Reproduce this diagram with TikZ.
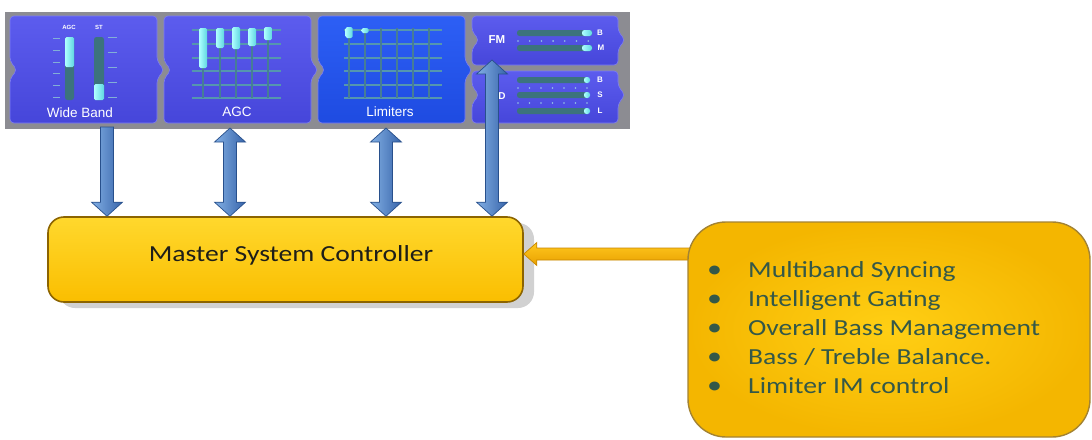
\documentclass[tikz,border=0pt]{standalone}
\usepackage{fontspec}
\setmainfont{Carlito}
\newfontfamily\calib{Carlito}[FakeStretch=1.2]
\newfontfamily\pfont{Liberation Sans}
\usetikzlibrary{calc,shadows}
\definecolor{bandgray}{RGB}{140,140,146}
\definecolor{vtop}{RGB}{92,92,238}
\definecolor{vbot}{RGB}{70,70,218}
\definecolor{ltop}{RGB}{45,95,245}
\definecolor{lbot}{RGB}{30,75,225}
\definecolor{pedge}{RGB}{125,125,245}
\definecolor{gridc}{RGB}{85,150,175}
\definecolor{vlinec}{RGB}{70,125,150}
\definecolor{barbg}{RGB}{60,115,125}
\definecolor{tickc}{RGB}{130,175,215}
\definecolor{cyanA}{RGB}{175,255,255}
\definecolor{cyanB}{RGB}{95,215,225}
\definecolor{arrL}{RGB}{130,175,228}
\definecolor{arrR}{RGB}{55,100,170}
\definecolor{arrE}{RGB}{40,80,140}
\definecolor{ylTop}{RGB}{255,216,45}
\definecolor{ylBot}{RGB}{250,190,0}
\definecolor{ylIn}{RGB}{255,207,20}
\definecolor{ylOut}{RGB}{244,182,0}
\definecolor{ylEdge}{RGB}{140,100,0}
\definecolor{orTop}{RGB}{255,200,30}
\definecolor{orBot}{RGB}{232,160,0}
\definecolor{orEdge}{RGB}{200,135,0}
\definecolor{txtMain}{RGB}{30,30,25}
\definecolor{txtBul}{RGB}{52,88,72}
\definecolor{dotc}{RGB}{150,200,230}

\newcommand\bpanel[6]{\path[#6, rounded corners=4] (#1,#2) -- (#3,#2) -- (#3,#5-9) -- (#3+7,#5) -- (#3,#5+9) -- (#3,#4) -- (#1,#4) -- (#1,#5+9) -- (#1+7,#5) -- (#1,#5-9) -- cycle;}
\newcommand\dblarrow[2]{\path[barrow] ($(#1)+(-6.5,14)$) -- ($(#1)+(-15.5,14)$) -- (#1) -- ($(#1)+(15.5,14)$) -- ($(#1)+(6.5,14)$) -- ($(#2)+(6.5,-14)$) -- ($(#2)+(15.5,-14)$) -- (#2) -- ($(#2)+(-15.5,-14)$) -- ($(#2)+(-6.5,-14)$) -- cycle;}
\newcommand\sglarrow[2]{\path[barrow] ($(#1)+(-6.5,0)$) -- ($(#1)+(6.5,0)$) -- ($(#2)+(6.5,-14)$) -- ($(#2)+(15.5,-14)$) -- (#2) -- ($(#2)+(-15.5,-14)$) -- ($(#2)+(-6.5,-14)$) -- cycle;}
\newcommand\leftarrowblk[2]{\path[oarrow] ($(#1)+(0,-6)$) -- ($(#2)+(13,-6)$) -- ($(#2)+(13,-11.5)$) -- (#2) -- ($(#2)+(13,11.5)$) -- ($(#2)+(13,6)$) -- ($(#1)+(0,6)$) -- cycle;}
\newcommand\blt{\makebox[39pt][l]{\hspace*{-2pt}\fontsize{25}{25}\selectfont\textbullet}}

\begin{document}
\begin{tikzpicture}[x=1pt,y=-1pt,
  violet/.style={top color=vtop,bottom color=vbot,draw=pedge,line width=0.6},
  limblue/.style={top color=ltop,bottom color=lbot,draw=pedge,line width=0.6},
  plabel/.style={text=white,font=\pfont\fontsize{13.5}{14}\selectfont,inner sep=0},
  slabel/.style={text=white,font=\pfont\bfseries\fontsize{6}{6}\selectfont,inner sep=0},
  mlabel/.style={text=white,font=\pfont\bfseries\fontsize{8}{8}\selectfont,inner sep=0},
  gridl/.style={draw=gridc,line width=1.4},
  vline/.style={draw=vlinec,line width=2.4},
  cyanbar/.style={left color=cyanA,right color=cyanB,rounded corners=1.5},
  barbgs/.style={fill=barbg,rounded corners=2.5},
  tick/.style={draw=tickc,line width=1},
  barrow/.style={left color=arrL,right color=arrR,draw=arrE,line width=0.7},
  oarrow/.style={top color=orTop,bottom color=orBot,draw=orEdge,line width=0.7},
  mscbox/.style={rounded corners=16,top color=ylTop,bottom color=ylBot,draw=ylEdge,line width=1.6,
     drop shadow={shadow xshift=11pt,shadow yshift=-6pt,opacity=0.18,fill=black}},
  infobox/.style={rounded corners=38,inner color=ylIn,outer color=ylOut,draw=ylEdge!80,line width=1.4},
  btext/.style={text=txtBul,font=\calib\fontsize{23}{27}\selectfont,inner sep=0,anchor=base west}
]
\useasboundingbox (0,0) rectangle (1092,439);
\fill[white] (0,0) rectangle (1092,439);

% ---------- top band of panels ----------
\fill[bandgray] (5,12) rectangle (630,129);
\bpanel{10}{16}{157}{123}{70}{violet}
\bpanel{164}{16}{311}{123}{70}{violet}
\bpanel{318}{16}{465}{123}{70}{limblue}
\bpanel{472}{16}{618}{65}{40}{violet}
\bpanel{472}{71}{618}{123}{95}{violet}

% Wide Band meters
\node[slabel] (wbagc) at (69,27) {AGC};
\node[slabel] (wbst) at (99,27) {ST};
\path[barbgs] (65,37) rectangle (74,100);
\path[cyanbar] (65,37) rectangle (74,67);
\path[barbgs] (94,37) rectangle (104,100);
\path[cyanbar] (94,84) rectangle (104,100);
\foreach \y in {38,50,62,73,85,97} \draw[tick] (53,\y) -- (60,\y);
\foreach \y in {37,52,67,82,97} \draw[tick] (108,\y) -- (117,\y);
\node[plabel] (wbl) at (80,113) {Wide Band};

% AGC meters
\foreach \y in {30,44,58,71,85,98} \draw[gridl] (192,\y) -- (281,\y);
\foreach \x/\t/\b in {203/28/68,220/28/48,236/27/49,252/28/46,268/27/40}{
  \draw[vline] (\x,30) -- (\x,98);
  \path[cyanbar] (\x-4,\t) rectangle (\x+4,\b);}
\node[plabel] (agl) at (237,112) {AGC};

% Limiters meters
\foreach \y in {30,44,58,71,85,98} \draw[gridl] (344,\y) -- (442,\y);
\foreach \x in {349,365,381,397,413,429} \draw[vline] (\x,28) -- (\x,98);
\path[cyanbar] (345.5,27) rectangle (352.5,38);
\path[cyanbar] (361.5,28) rectangle (368.5,33);
\node[plabel] (lil) at (390,112) {Limiters};

% FM panel
\node[text=white,font=\pfont\bfseries\fontsize{11.5}{12}\selectfont,inner sep=0] (fml) at (497,40) {FM};
\foreach \y in {33,48}{
  \path[barbgs] (517,\y-3) rectangle (592,\y+3);
  \path[cyanbar,rounded corners=2.5] (582,\y-3) rectangle (592,\y+3);}
\foreach \i in {0,...,6} \fill[dotc] (518+\i*11.7,41) circle (0.9);
\node[mlabel] (fmb) at (600,33) {B};
\node[mlabel] (fmm) at (601,48) {M};

% D panel
\node[text=white,font=\pfont\bfseries\fontsize{10}{10}\selectfont,inner sep=0] (dl) at (502,96) {D};
\foreach \y in {80,95,111}{
  \path[barbgs] (517,\y-3) rectangle (588,\y+3);
  \path[cyanbar,rounded corners=2.5] (584,\y-3) rectangle (590,\y+3);}
\foreach \y in {88,103} \foreach \i in {0,...,6} \fill[dotc] (518+\i*11.5,\y) circle (0.9);
\node[mlabel] (db) at (600,80) {B};
\node[mlabel] (ds) at (600,95) {S};
\node[mlabel] (dll) at (600,111) {L};

% ---------- master controller ----------
\node[mscbox,minimum width=475,minimum height=85] (msc) at (285.5,259.5) {};
\node[text=txtMain,font=\calib\fontsize{23}{27}\selectfont,inner sep=0] (msct) at (291,255) {Master System Controller};

% ---------- arrows ----------
\coordinate (wbT) at (107,127);
\coordinate (agT) at (230,128);
\coordinate (liT) at (386,128);
\coordinate (fmT) at (492,60);
\coordinate (wbB) at (wbT |- msc.north);
\coordinate (agB) at (agT |- msc.north);
\coordinate (liB) at (liT |- msc.north);
\coordinate (fmB) at (fmT |- msc.north);
\sglarrow{wbT}{wbB}
\dblarrow{agT}{agB}
\dblarrow{liT}{liB}
\dblarrow{fmT}{fmB}

% ---------- feature box ----------
\coordinate (oaS) at (705,254);
\coordinate (oaE) at (msc.east |- oaS);
\leftarrowblk{oaS}{oaE}
\node[infobox,minimum width=402,minimum height=215] (info) at (889,329.5) {};
\node[btext] (l1) at (709,277) {\blt Multiband Syncing};
\node[btext] (l2) at (709,306) {\blt Intelligent Gating};
\node[btext] (l3) at (709,335) {\blt Overall Bass Management};
\node[btext] (l4) at (709,364) {\blt Bass / Treble Balance.};
\node[btext] (l5) at (709,393) {\blt Limiter IM control};
\end{tikzpicture}
\end{document}
